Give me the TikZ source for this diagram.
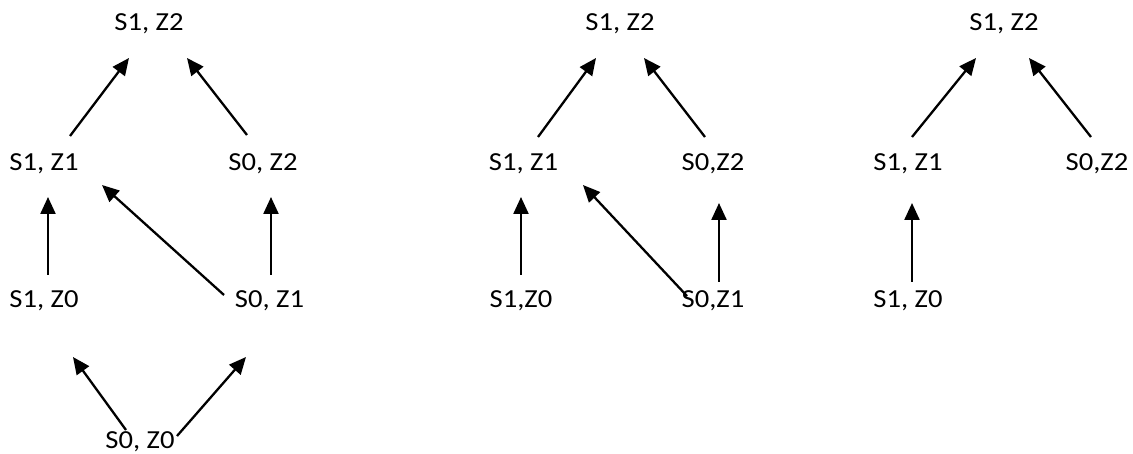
\documentclass[tikz,border=0pt]{standalone}
\usepackage{fontspec}
\setmainfont{Carlito}[FakeStretch=1.1]
\usetikzlibrary{arrows.meta}
\tikzset{
  state/.style={anchor=base, inner sep=0pt, font=\fontsize{26}{31}\selectfont},
  link/.style={line width=2.3pt, -{Triangle[length=17pt,width=15pt]}}
}
\begin{document}
\begin{tikzpicture}[x=1pt,y=-1pt]
\useasboundingbox (0,0) rectangle (1133,454);

% ---- lattice 1 ----
\node[state] (p1top) at (149,31)   {S1, Z2};
\node[state] (p1a)   at (44,171)   {S1, Z1};
\node[state] (p1b)   at (263,171)  {S0, Z2};
\node[state] (p1c)   at (44,308)   {S1, Z0};
\node[state] (p1d)   at (269.5,308){S0, Z1};
\node[state] (p1e)   at (140,448)  {S0, Z0};

\coordinate (p1ats) at (70,136);   \coordinate (p1ate) at (129,58);
\coordinate (p1bts) at (247,135);  \coordinate (p1bte) at (187,58);
\coordinate (p1cas) at (48,275);   \coordinate (p1cae) at (48,197);
\coordinate (p1das) at (224,295);  \coordinate (p1dae) at (102,185);
\coordinate (p1dbs) at (271,275);  \coordinate (p1dbe) at (271,197);
\coordinate (p1ecs) at (126,430);  \coordinate (p1ece) at (73,357);
\coordinate (p1eds) at (177,436);  \coordinate (p1ede) at (246,357);

\draw[link] (p1ats) -- (p1ate);
\draw[link] (p1bts) -- (p1bte);
\draw[link] (p1cas) -- (p1cae);
\draw[link] (p1das) -- (p1dae);
\draw[link] (p1dbs) -- (p1dbe);
\draw[link] (p1ecs) -- (p1ece);
\draw[link] (p1eds) -- (p1ede);

% ---- lattice 2 ----
\node[state] (p2top) at (620,31)   {S1, Z2};
\node[state] (p2a)   at (523.5,171){S1, Z1};
\node[state] (p2b)   at (713,171)  {S0,Z2};
\node[state] (p2c)   at (521,308)  {S1,Z0};
\node[state] (p2d)   at (713,308)  {S0,Z1};

\coordinate (p2ats) at (538,137);  \coordinate (p2ate) at (596,58);
\coordinate (p2bts) at (705,137);  \coordinate (p2bte) at (644,58);
\coordinate (p2cas) at (521,275);  \coordinate (p2cae) at (521,197);
\coordinate (p2das) at (687,296);  \coordinate (p2dae) at (583,185);
\coordinate (p2dbs) at (719,282);  \coordinate (p2dbe) at (719,203);

\draw[link] (p2ats) -- (p2ate);
\draw[link] (p2bts) -- (p2bte);
\draw[link] (p2cas) -- (p2cae);
\draw[link] (p2das) -- (p2dae);
\draw[link] (p2dbs) -- (p2dbe);

% ---- lattice 3 ----
\node[state] (p3top) at (1004,31)  {S1, Z2};
\node[state] (p3a)   at (908,171)  {S1, Z1};
\node[state] (p3b)   at (1097,171) {S0,Z2};
\node[state] (p3c)   at (908,308)  {S1, Z0};

\coordinate (p3ats) at (912,137);  \coordinate (p3ate) at (976,58);
\coordinate (p3bts) at (1091,137); \coordinate (p3bte) at (1029,58);
\coordinate (p3cas) at (912,282);  \coordinate (p3cae) at (912,203);

\draw[link] (p3ats) -- (p3ate);
\draw[link] (p3bts) -- (p3bte);
\draw[link] (p3cas) -- (p3cae);
\end{tikzpicture}
\end{document}
